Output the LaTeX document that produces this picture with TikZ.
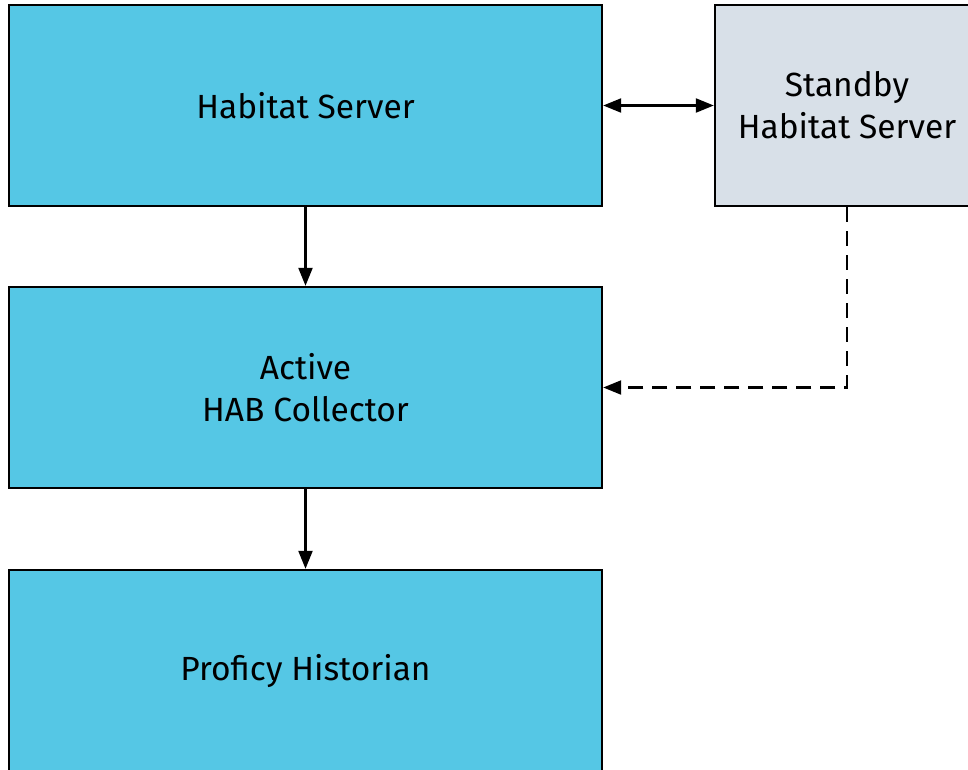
\documentclass[tikz,border=0pt]{standalone}
\usepackage{fontspec}
\setmainfont{Fira Sans}
\usetikzlibrary{arrows.meta}
\definecolor{boxblue}{HTML}{55C7E5}
\definecolor{boxgray}{HTML}{D8E0E8}
\tikzset{
  blk/.style={draw=black, line width=2.4pt, fill=boxblue, inner sep=0pt, align=center,
    font=\fontsize{33.5}{42}\selectfont},
  gblk/.style={blk, fill=boxgray},
  tip/.tip={Triangle[length=18pt,width=14pt]},
  conn/.style={line width=2.2pt, -tip},
}
\begin{document}
\begin{tikzpicture}[x=1pt,y=1pt]
\useasboundingbox (0,0) rectangle (968,-769);
\clip (0,0) rectangle (968,-769);
\node[blk, minimum width=593pt, minimum height=201pt] (hs) at (305.5,-105.5) {Habitat Server};
\node[blk, minimum width=593pt, minimum height=201pt] (ac) at (305.5,-387.5) {Active\\HAB Collector};
\node[blk, minimum width=593pt, minimum height=201pt] (ph) at (305.5,-670.5) {Proficy Historian};
\node[gblk, minimum width=264pt, minimum height=201pt] (sb) at (847,-105.5) {Standby\\Habitat Server};
\draw[conn] (hs) -- (ac);
\draw[conn] (ac) -- (ph);
\draw[conn, tip-tip] (hs.east) -- (sb.west);
\coordinate (corner) at (sb.south |- ac.east);
\draw[conn, dash pattern=on 15pt off 9pt] (sb.south) -- (corner) -- (ac.east);
\end{tikzpicture}
\end{document}
